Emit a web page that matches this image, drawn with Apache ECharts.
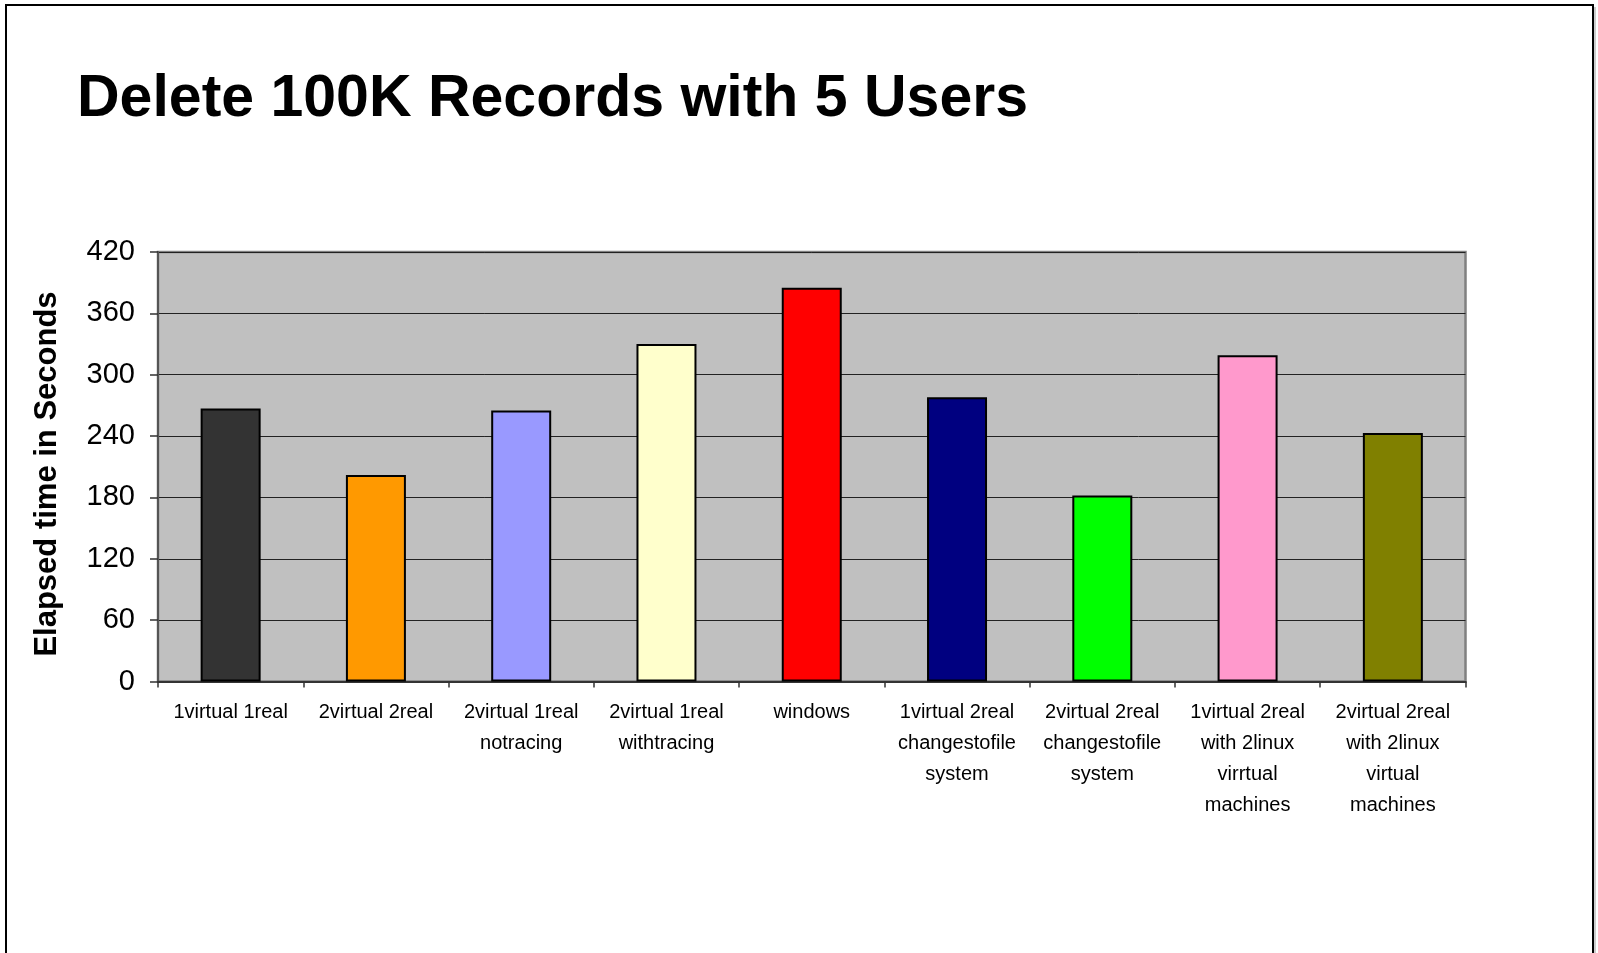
<!DOCTYPE html>
<html>
<head>
<meta charset="utf-8">
<script src="https://cdn.jsdelivr.net/npm/echarts@6/dist/echarts.min.js"></script>
<style>
html,body{margin:0;padding:0;background:#fff;}
#chart{width:1598px;height:953px;}
</style>
</head>
<body>
<div id="chart"></div>
<script>
const titleText = 'Delete 100K Records with 5 Users';
const yAxisName = 'Elapsed time in Seconds';
const categories = [
  '1virtual 1real',
  '2virtual 2real',
  '2virtual 1real\nnotracing',
  '2virtual 1real\nwithtracing',
  'windows',
  '1virtual 2real\nchangestofile\nsystem',
  '2virtual 2real\nchangestofile\nsystem',
  '1virtual 2real\nwith 2linux\nvirrtual\nmachines',
  '2virtual 2real\nwith 2linux\nvirtual\nmachines'
];
const values = [267, 202, 265, 330, 385, 278, 182, 319, 243];
const barColors = ['#333333', '#FF9900', '#9999FF', '#FFFFCC', '#FF0000', '#000080', '#00FF00', '#FF99CC', '#808000'];
const yMin = 0, yMax = 420, yStep = 60;

const chart = echarts.init(document.getElementById('chart'), null, {renderer: 'canvas'});
const font = '"Liberation Sans", Arial, sans-serif';

chart.setOption({
  animation: false,
  backgroundColor: '#ffffff',
  title: {
    text: titleText,
    left: 77,
    top: 70,
    padding: 0,
    textStyle: {fontFamily: font, fontWeight: 'bold', fontSize: 59, color: '#000', lineHeight: 59}
  },
  graphic: [
    {type: 'polyline', silent: true, z: 100,
     shape: {points: [[6, 953], [6, 5], [1593, 5], [1593, 953]]},
     style: {stroke: '#000', lineWidth: 2, fill: null}},
    {type: 'line', silent: true, z: 100,
     shape: {x1: 1595, y1: 7, x2: 1595, y2: 953},
     style: {stroke: '#9a9a9a', lineWidth: 1}},
    {type: 'text', silent: true, z: 100,
     x: 47, y: 474, rotation: Math.PI / 2,
     style: {text: yAxisName, fontFamily: font, fontWeight: 'bold', fontSize: 31, fill: '#000',
             align: 'center', verticalAlign: 'middle'}}
  ],
  grid: {
    left: 158, right: 132.5, top: 252, bottom: 271.5,
    show: true, backgroundColor: '#C0C0C0', borderColor: '#808080', borderWidth: 2.5,
    containLabel: false
  },
  xAxis: {
    type: 'category',
    data: categories,
    axisLine: {show: true, lineStyle: {color: '#333', width: 2}},
    axisTick: {show: true, alignWithLabel: false, length: 6, inside: false, lineStyle: {color: '#333', width: 1.5}},
    axisLabel: {interval: 0, margin: 15, fontFamily: font, fontSize: 20, lineHeight: 31, color: '#000', align: 'center'},
    splitLine: {show: false}
  },
  yAxis: {
    type: 'value',
    min: yMin, max: yMax, interval: yStep,
    axisLine: {show: true, lineStyle: {color: '#555', width: 2}},
    axisTick: {show: true, length: 8, lineStyle: {color: '#333', width: 1.5}},
    axisLabel: {margin: 23, fontFamily: font, fontSize: 29, color: '#000'},
    splitLine: {show: true, lineStyle: {color: '#222', width: 1}}
  },
  series: [{
    type: 'bar',
    data: values.map((v, i) => ({value: v, itemStyle: {color: barColors[i]}})),
    barWidth: 60,
    itemStyle: {borderColor: '#000', borderWidth: 2},
    z: 3
  }]
});
</script>
</body>
</html>
